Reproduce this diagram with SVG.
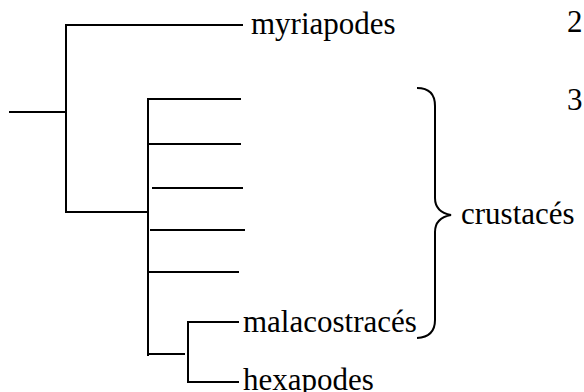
<svg xmlns="http://www.w3.org/2000/svg" width="584" height="392" viewBox="0 0 584 392">
<style>
.ln{stroke:#000;stroke-width:2;fill:none;stroke-linecap:butt}
.br{stroke:#000;stroke-width:2;fill:none}
.t{font-family:"Liberation Serif","Times New Roman",Times,"DejaVu Serif",serif;font-size:31px;fill:#000}
</style>
<rect width="584" height="392" fill="#fff"/>
<g id="connectors">
<line class="ln" x1="9" y1="112" x2="66" y2="112"/>
<line class="ln" x1="66" y1="24" x2="66" y2="213"/>
<line class="ln" x1="66" y1="25" x2="243" y2="25"/>
<line class="ln" x1="66" y1="212" x2="148" y2="212"/>
<line class="ln" x1="148" y1="98" x2="148" y2="356"/>
<line class="ln" x1="148" y1="99" x2="241" y2="99"/>
<line class="ln" x1="148" y1="144" x2="241" y2="144"/>
<line class="ln" x1="152" y1="188" x2="243" y2="188"/>
<line class="ln" x1="150" y1="230" x2="245" y2="230"/>
<line class="ln" x1="148" y1="272" x2="239" y2="272"/>
<line class="ln" x1="148" y1="354" x2="185" y2="354"/>
<line class="ln" x1="188" y1="321" x2="188" y2="383"/>
<line class="ln" x1="188" y1="322" x2="239" y2="322"/>
<line class="ln" x1="188" y1="382" x2="239" y2="382"/>
</g>
<g id="myriapodes"><text class="t" font-family="Liberation Serif, serif" x="251" y="34">myriapodes</text></g>
<g id="malacostraces"><text class="t" font-family="Liberation Serif, serif" x="243" y="332">malacostracés</text></g>
<g id="hexapodes"><text class="t" font-family="Liberation Serif, serif" x="243" y="390">hexapodes</text></g>
<g id="crustaces">
<path class="br" d="M417,88 Q435,88 435,106 L435,198 Q435,212 451,215 Q435,218 435,232 L435,320 Q435,337 417,338"/>
<text class="t" font-family="Liberation Serif, serif" x="461" y="224">crustacés</text>
</g>
<g id="n2"><text class="t" font-family="Liberation Serif, serif" x="567" y="32">2</text></g>
<g id="n3"><text class="t" font-family="Liberation Serif, serif" x="567" y="110">3</text></g>
</svg>
